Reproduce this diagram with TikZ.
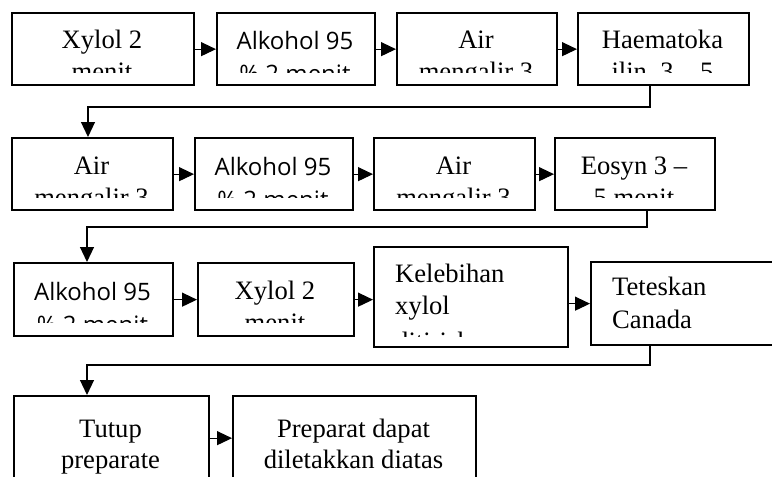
\documentclass[tikz,border=0pt]{standalone}
\usepackage{fontspec}
\setmainfont{Liberation Serif}
\newfontfamily\sansfnt{Open Sans}
\usetikzlibrary{arrows.meta}
\tikzset{
  boxst/.style={draw, line width=2.3pt, rectangle, inner sep=0pt, anchor=north west},
  serift/.style={font=\fontsize{26.6}{32}\selectfont, inner sep=0pt},
  sanst/.style={font=\sansfnt\fontsize{24}{28}\selectfont, inner sep=0pt},
  conn/.style={line width=1.2pt, -{Triangle[length=15pt,width=14pt]}},
}
% #1 name, #2 x, #3 y, #4 width, #5 height, #6 visible text height, #7 text nodes
\newcommand\stepbox[7]{%
  \node[boxst, minimum width=#4pt, minimum height=#5pt] (#1) at (#2,#3) {};
  \begin{scope}\clip (#2,#3) rectangle ++(#4,#6); #7 \end{scope}}
\begin{document}
\begin{tikzpicture}[x=1pt,y=-1pt]
\clip (0,0) rectangle (772,477);
\fill[white] (0,0) rectangle (772,477);

% Row 1
\stepbox{b1}{11}{12}{182}{72}{60.5}{%
  \node[serift, anchor=base] at (102,48) {Xylol 2};
  \node[serift, anchor=base] at (102,80) {menit};}
\stepbox{b2}{216}{12}{158}{72}{60.5}{%
  \node[sanst, anchor=base] at (295,49) {Alkohol 95};
  \node[sanst, anchor=base] at (295,82) {\% 2 menit};}
\stepbox{b3}{396}{12}{160}{72}{60.5}{%
  \node[serift, anchor=base] at (476,48) {Air};
  \node[serift, anchor=base] at (476,80) {mengalir 3};}
\stepbox{b4}{577}{12}{171}{72}{60.5}{%
  \node[serift, anchor=base] at (662.5,48) {Haematoka};
  \node[serift, anchor=base] at (662.5,80) {ilin\ \ 3 – 5};}

% Row 2
\stepbox{b5}{11}{137}{161}{72}{60}{%
  \node[serift, anchor=base] at (91.5,174) {Air};
  \node[serift, anchor=base] at (91.5,206) {mengalir 3};}
\stepbox{b6}{194}{137}{158}{72}{60}{%
  \node[sanst, anchor=base] at (273,175) {Alkohol 95};
  \node[sanst, anchor=base] at (273,208) {\% 2 menit};}
\stepbox{b7}{373}{137}{161}{72}{60}{%
  \node[serift, anchor=base] at (453.5,174) {Air};
  \node[serift, anchor=base] at (453.5,206) {mengalir 3};}
\stepbox{b8}{554}{137}{160}{72}{60}{%
  \node[serift, anchor=base] at (634,174) {Eosyn 3 –};
  \node[serift, anchor=base] at (634,206) {5 menit};}

% Row 3
\stepbox{b9}{13}{262}{159}{73}{60}{%
  \node[sanst, anchor=base] at (92.5,300) {Alkohol 95};
  \node[sanst, anchor=base] at (92.5,333) {\% 2 menit};}
\stepbox{b10}{197}{262}{156}{73}{60}{%
  \node[serift, anchor=base] at (275,299) {Xylol 2};
  \node[serift, anchor=base] at (275,331) {menit};}
\stepbox{b11}{373}{246}{194}{100}{90}{%
  \node[serift, anchor=base west] at (395,282) {Kelebihan};
  \node[serift, anchor=base west] at (395,314) {xylol};
  \node[serift, anchor=base west] at (395,350) {ditiriskan};}
\stepbox{b12}{590}{261}{200}{83}{83}{%
  \node[serift, anchor=base west] at (612,295) {Teteskan};
  \node[serift, anchor=base west] at (612,328) {Canada};}

% Row 4
\stepbox{b13}{13}{395}{195}{84}{84}{%
  \node[serift, anchor=base] at (110.5,437) {Tutup};
  \node[serift, anchor=base] at (110.5,468) {preparate};}
\stepbox{b14}{232}{395}{243}{84}{84}{%
  \node[serift, anchor=base] at (353.5,437) {Preparat dapat};
  \node[serift, anchor=base] at (353.5,468) {diletakkan diatas};}

% Horizontal connectors
\draw[conn] (b1) -- (b2);
\draw[conn] (b2) -- (b3);
\draw[conn] (b3) -- (b4);
\draw[conn] (b5) -- (b6);
\draw[conn] (b6) -- (b7);
\draw[conn] (b7) -- (b8);
\draw[conn] (b9) -- (b10);
\draw[conn] (b10.east) -- (b10.east -| b11.west);
\draw[conn] (b11.east |- b12.west) -- (b12.west);
\draw[conn] (b13) -- (b14);

% Row-to-row connectors
\coordinate (c1a) at (650,107);
\coordinate (c1b) at (88,107);
\draw[conn] (b4.south -| c1a) -- (c1a) -- (c1b) -- (b5.north -| c1b);
\coordinate (c2a) at (647,227);
\coordinate (c2b) at (87,227);
\draw[conn] (b8.south -| c2a) -- (c2a) -- (c2b) -- (b9.north -| c2b);
\coordinate (c3a) at (650,365);
\coordinate (c3b) at (87,365);
\draw[conn] (b12.south -| c3a) -- (c3a) -- (c3b) -- (b13.north -| c3b);
\end{tikzpicture}
\end{document}
